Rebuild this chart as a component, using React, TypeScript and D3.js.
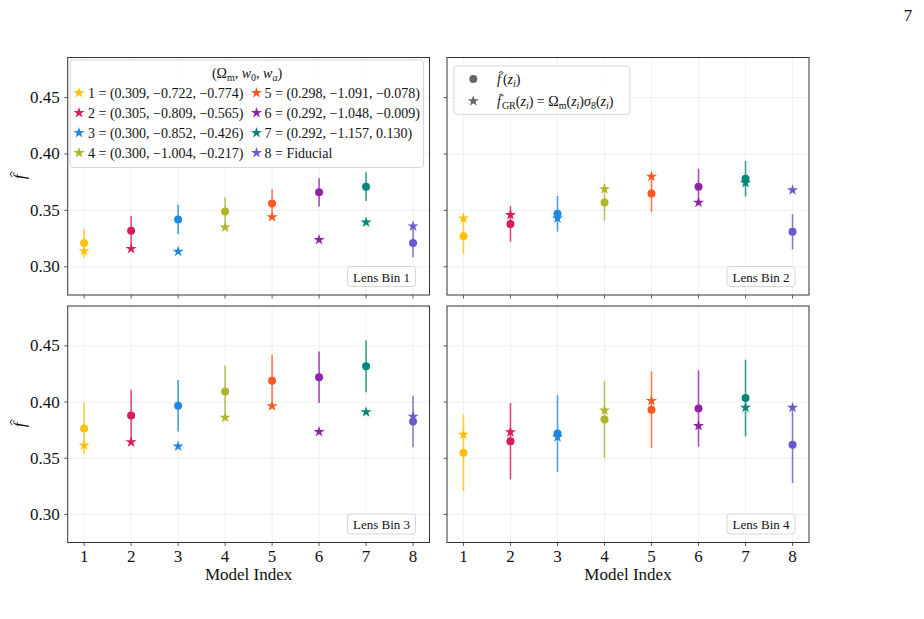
import React from 'react';
import * as d3 from 'd3';

// model index and colour for each cosmology
const models = [1, 2, 3, 4, 5, 6, 7, 8];
const modelColors = ['#FFC107', '#D81B60', '#1E88E5', '#AFB42B', '#FF5722', '#8E24AA', '#00897B', '#6A5ACD'];
const modelParams = [
  '(0.309, −0.722, −0.774)',
  '(0.305, −0.809, −0.565)',
  '(0.300, −0.852, −0.426)',
  '(0.300, −1.004, −0.217)',
  '(0.298, −1.091, −0.078)',
  '(0.292, −1.048, −0.009)',
  '(0.292, −1.157, 0.130)',
  'Fiducial',
];

const yTicks = [0.3, 0.35, 0.4, 0.45];
const binNames = ['Lens Bin 1', 'Lens Bin 2', 'Lens Bin 3', 'Lens Bin 4'];

// measured f(z_i) per lens bin
const fBin1 = [0.321, 0.332, 0.342, 0.349, 0.356, 0.366, 0.371, 0.321];
const fBin2 = [0.327, 0.338, 0.347, 0.357, 0.365, 0.371, 0.378, 0.331];
const fBin3 = [0.3765, 0.388, 0.3967, 0.4095, 0.419, 0.422, 0.4318, 0.3827];
const fBin4 = [0.3548, 0.3652, 0.372, 0.3845, 0.3932, 0.3943, 0.4036, 0.3619];

// 1-sigma errors on f(z_i)
const errBin1 = [0.0127, 0.0128, 0.013, 0.0127, 0.0127, 0.0125, 0.0127, 0.0126];
const errBin2 = [0.016, 0.0157, 0.0158, 0.016, 0.0162, 0.016, 0.0158, 0.0156];
const errBin3 = [0.0228, 0.023, 0.023, 0.0229, 0.0231, 0.0229, 0.0231, 0.023];
const errBin4 = [0.034, 0.034, 0.0341, 0.034, 0.0341, 0.034, 0.0341, 0.034];

// GR prediction Omega_m(z) sigma_8(z)
const grBin1 = [0.314, 0.316, 0.3135, 0.335, 0.344, 0.324, 0.3395, 0.336];
const grBin2 = [0.343, 0.346, 0.343, 0.369, 0.38, 0.357, 0.3745, 0.368];
const grBin3 = [0.3616, 0.3643, 0.3607, 0.3863, 0.3964, 0.3735, 0.3911, 0.3872];
const grBin4 = [0.3711, 0.3732, 0.3688, 0.3926, 0.4012, 0.3789, 0.3952, 0.3952];

const fAll = [fBin1, fBin2, fBin3, fBin4];
const errAll = [errBin1, errBin2, errBin3, errBin4];
const grAll = [grBin1, grBin2, grBin3, grBin4];

const W = 924;
const H = 619;
const FONT = '"Liberation Serif", "DejaVu Serif", serif';

const cols = [[67.7, 429.5], [447, 809]];
const rows = [[57.5, 295], [306, 542.5]];

const starPath = d3.symbol(d3.symbolStar, 38)()!;

// circumflex drawn as a path above an italic f whose baseline starts at (x, y)
const hatPath = (x: number, y: number, s: number) => {
  const cx = x + s * 0.3;
  const top = y - s * 0.86;
  const w = s * 0.17;
  const h = s * 0.1;
  return `M${cx - w},${top + h} L${cx},${top} L${cx + w},${top + h}`;
};

const Panel: React.FC<{ idx: number }> = ({ idx }) => {
  const col = idx % 2;
  const row = Math.floor(idx / 2);
  const [x0, x1] = cols[col];
  const [y0, y1] = rows[row];
  const x = d3.scaleLinear().domain([0.65, 8.35]).range([x0, x1]);
  const y = d3.scaleLinear().domain([0.275, 0.4855]).range([y1, y0]);
  const f = fAll[idx];
  const err = errAll[idx];
  const gr = grAll[idx];
  const showXLabels = row === 1;
  const showYLabels = col === 0;
  const midY = (y0 + y1) / 2;
  return (
    <g>
      {/* grid */}
      {models.map((m) => (
        <line key={'gx' + m} x1={x(m)} x2={x(m)} y1={y0} y2={y1} stroke="#ececec" strokeWidth={0.8} />
      ))}
      {yTicks.map((t) => (
        <line key={'gy' + t} x1={x0} x2={x1} y1={y(t)} y2={y(t)} stroke="#ececec" strokeWidth={0.8} />
      ))}
      {/* data */}
      {models.map((m, i) => (
        <g key={'d' + m}>
          <path d={starPath} transform={`translate(${x(m)},${y(gr[i])})`} fill={modelColors[i]} />
          <line x1={x(m)} x2={x(m)} y1={y(f[i] - err[i])} y2={y(f[i] + err[i])} stroke={modelColors[i]} strokeWidth={1.6} strokeOpacity={0.8} />
          <circle cx={x(m)} cy={y(f[i])} r={4} fill={modelColors[i]} />
        </g>
      ))}
      {/* frame */}
      <rect x={x0} y={y0} width={x1 - x0} height={y1 - y0} fill="none" stroke="#333" strokeWidth={1} />
      {/* ticks */}
      {models.map((m) => (
        <line key={'tx' + m} x1={x(m)} x2={x(m)} y1={y1} y2={y1 + 3.5} stroke="#333" strokeWidth={0.8} />
      ))}
      {yTicks.map((t) => (
        <line key={'ty' + t} x1={x0 - 3.5} x2={x0} y1={y(t)} y2={y(t)} stroke="#333" strokeWidth={0.8} />
      ))}
      {showXLabels &&
        models.map((m) => (
          <text key={'lx' + m} x={x(m)} y={561.5} textAnchor="middle" fontSize={17} fontFamily={FONT} fill="#111">
            {m}
          </text>
        ))}
      {showYLabels &&
        yTicks.map((t) => (
          <text key={'ly' + t} x={x0 - 8} y={y(t) + 5.5} textAnchor="end" fontSize={17} fontFamily={FONT} fill="#111">
            {d3.format('.2f')(t)}
          </text>
        ))}
      {showXLabels && (
        <text x={(x0 + x1) / 2} y={580} textAnchor="middle" fontSize={17} fontFamily={FONT} fill="#111">
          Model Index
        </text>
      )}
      {showYLabels && (
        <g transform={`translate(25,${midY}) rotate(-90)`}>
          <text x={-3} y={0} fontSize={17} fontFamily={FONT} fontStyle="italic" fill="#111">
            f
          </text>
          <path d={hatPath(-3, 0, 17)} fill="none" stroke="#111" strokeWidth={0.9} />
        </g>
      )}
      {/* bin label */}
      <rect x={x1 - 82} y={y1 - 28.5} width={68} height={20} rx={3} fill="#fff" fillOpacity={0.85} stroke="#d6d6d6" strokeWidth={1} />
      <text x={x1 - 48} y={y1 - 13.5} textAnchor="middle" fontSize={13} fontFamily={FONT} fill="#111">
        {binNames[idx]}
      </text>
    </g>
  );
};

const ModelLegend: React.FC = () => {
  const rowY = [93.3, 113.3, 133.3, 153.3];
  return (
    <g fontFamily={FONT} fontSize={14} fill="#111">
      <rect x={70} y={60} width={353.5} height={107.5} rx={3} fill="#fff" fillOpacity={0.85} stroke="#d6d6d6" strokeWidth={1} />
      <text x={247} y={78} textAnchor="middle">
        (Ω<tspan fontSize={10} dy={3}>m</tspan>
        <tspan dy={-3}>, </tspan>
        <tspan fontStyle="italic">w</tspan>
        <tspan fontSize={10} dy={3}>0</tspan>
        <tspan dy={-3}>, </tspan>
        <tspan fontStyle="italic">w</tspan>
        <tspan fontSize={10} dy={3} fontStyle="italic">a</tspan>
        <tspan dy={-3}>)</tspan>
      </text>
      {models.map((m, i) => {
        const c = Math.floor(i / 4);
        const r = i % 4;
        const sx = c === 0 ? 79 : 256.5;
        const tx = c === 0 ? 88 : 264.5;
        return (
          <g key={'lg' + m}>
            <path d={starPath} transform={`translate(${sx},${rowY[r] - 0.5})`} fill={modelColors[i]} />
            <text x={tx} y={rowY[r] + 5}>
              {m} = {modelParams[i]}
            </text>
          </g>
        );
      })}
    </g>
  );
};

const MarkerLegend: React.FC = () => (
  <g fontFamily={FONT} fontSize={14} fill="#111">
    <rect x={454} y={66} width={176} height={48.3} rx={3} fill="#fff" fillOpacity={0.85} stroke="#d6d6d6" strokeWidth={1} />
    <circle cx={473.3} cy={79} r={4} fill="#666" />
    <path d={starPath} transform="translate(473.3,101)" fill="#666" />
    <path d={hatPath(497, 83.5, 14)} fill="none" stroke="#111" strokeWidth={0.8} />
    <text x={497} y={83.5}>
      <tspan fontStyle="italic">f</tspan>
      <tspan dx={2}>(</tspan>
      <tspan fontStyle="italic">z</tspan>
      <tspan fontSize={10} dy={3} fontStyle="italic">i</tspan>
      <tspan dy={-3}>)</tspan>
    </text>
    <path d={hatPath(497, 106, 14)} fill="none" stroke="#111" strokeWidth={0.8} />
    <text x={497} y={106}>
      <tspan fontStyle="italic">f</tspan>
      <tspan fontSize={10} dy={3} dx={1}>GR</tspan>
      <tspan dy={-3}>(</tspan>
      <tspan fontStyle="italic">z</tspan>
      <tspan fontSize={10} dy={3} fontStyle="italic">i</tspan>
      <tspan dy={-3}>) = Ω</tspan>
      <tspan fontSize={10} dy={3}>m</tspan>
      <tspan dy={-3}>(</tspan>
      <tspan fontStyle="italic">z</tspan>
      <tspan fontSize={10} dy={3} fontStyle="italic">i</tspan>
      <tspan dy={-3}>)</tspan>
      <tspan fontStyle="italic">σ</tspan>
      <tspan fontSize={10} dy={3}>8</tspan>
      <tspan dy={-3}>(</tspan>
      <tspan fontStyle="italic">z</tspan>
      <tspan fontSize={10} dy={3} fontStyle="italic">i</tspan>
      <tspan dy={-3}>)</tspan>
    </text>
  </g>
);

export default function App() {
  return (
    <svg
      width={W}
      height={H}
      viewBox={`0 0 ${W} ${H}`}
      style={{ position: 'absolute', left: 0, top: 0, background: '#fff' }}
    >
      <rect width={W} height={H} fill="#fff" />
      <text x={908} y={21} textAnchor="middle" fontSize={17} fontFamily={FONT} fill="#111">
        7
      </text>
      {[0, 1, 2, 3].map((i) => (
        <Panel key={i} idx={i} />
      ))}
      <ModelLegend />
      <MarkerLegend />
    </svg>
  );
}
